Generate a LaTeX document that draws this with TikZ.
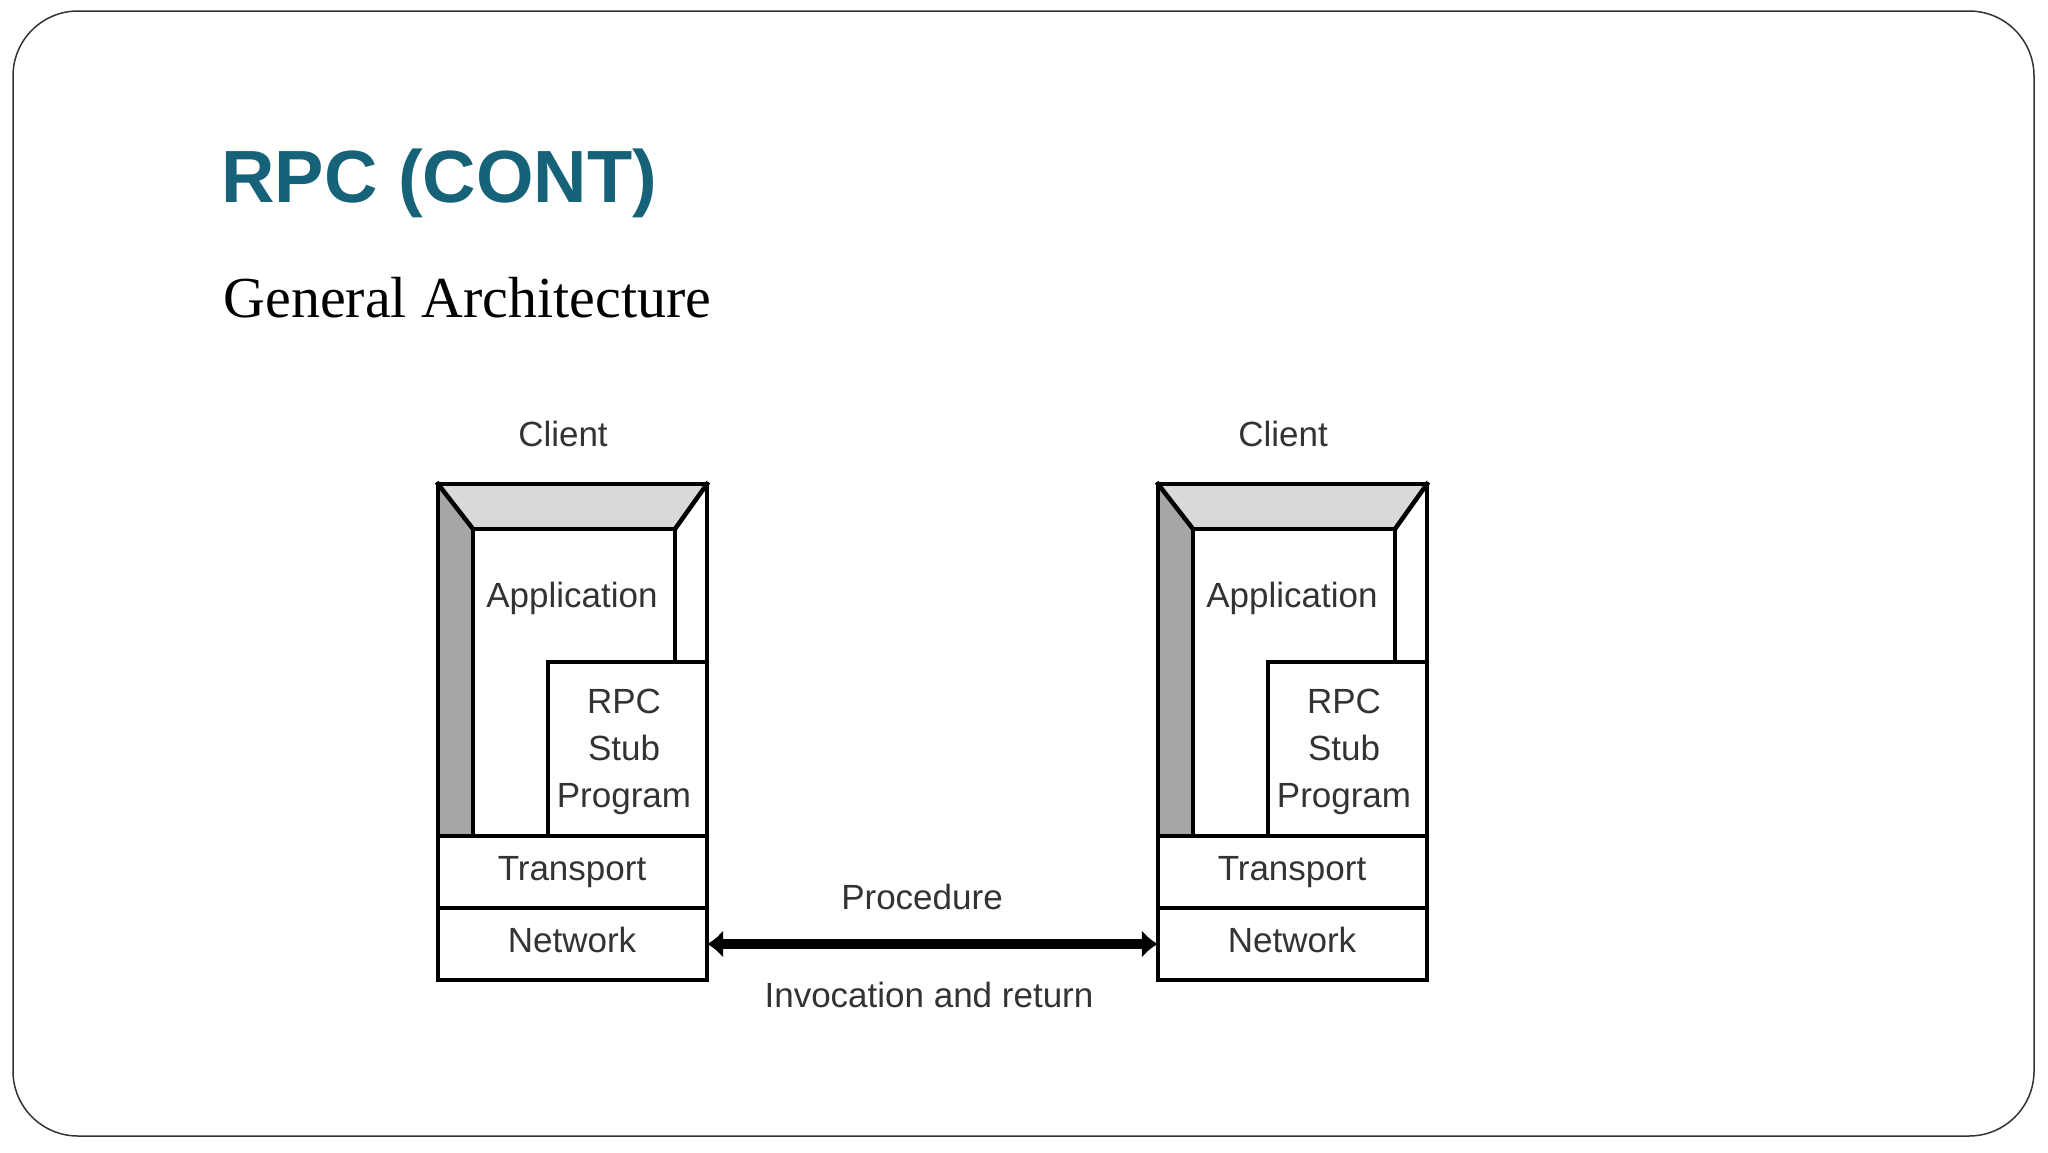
\documentclass[tikz,border=0pt]{standalone}
\usepackage{fontspec}
\setmainfont{Liberation Serif}
\newfontfamily\lsans{Liberation Sans}
\usetikzlibrary{arrows.meta}
\definecolor{teal1}{RGB}{22,98,120}
\begin{document}
\begin{tikzpicture}[x=1pt,y=-1pt,
  lbl/.style={font=\lsans\fontsize{35}{42}\selectfont, text=black!80, inner sep=0pt, align=center},
  ln/.style={line width=4.5pt, line cap=rect}]
\useasboundingbox (0,0) rectangle (2048,1152);
\draw[line width=1.5pt, black!80, rounded corners=65] (13,11) rectangle (2034,1136);
\node[anchor=west, text=teal1, font=\lsans\bfseries\fontsize{74}{80}\selectfont] (title) at (218,183) {RPC (CONT)};
\node[anchor=west, font=\fontsize{58}{66}\selectfont] (sub) at (220,298) {General Architecture};
\foreach \dx/\n in {0/L,720/R}{
\begin{scope}[xshift=\dx]
  \fill[black!15] (438,484) -- (707,484) -- (675,529) -- (473,529) -- cycle;
  \fill[black!35] (438,484) -- (473,529) -- (473,836) -- (438,836) -- cycle;
  \draw[ln] (438,484) rectangle (707,980);
  \draw[ln] (473,836) -- (473,529) -- (675,529) -- (675,662);
  \draw[ln] (548,836) -- (548,662) -- (707,662);
  \draw[ln] (438,484) -- (473,529) (707,484) -- (675,529);
  \draw[ln] (438,836) -- (707,836) (438,908) -- (707,908);
  \node[lbl] (client\n) at (563,434) {Client};
  \node[lbl] (app\n) at (572,598) {Application};
  \node[lbl, font=\lsans\fontsize{35}{47}\selectfont] (stub\n) at (624,752) {RPC\\Stub\\Program};
  \node[lbl] (trans\n) at (572,872) {Transport};
  \node[lbl, minimum width=269, minimum height=72] (net\n) at (572.5,944) {};
  \node[lbl] at (572,940) {Network};
\end{scope}
}
\draw[line width=10pt, {Latex[length=16pt,width=28pt]}-{Latex[length=16pt,width=28pt]}] (netL.east) -- (netR.west);
\node[lbl] (proc) at (922,897) {Procedure};
\node[lbl] (inv) at (929,995) {Invocation and return};
\end{tikzpicture}
\end{document}
